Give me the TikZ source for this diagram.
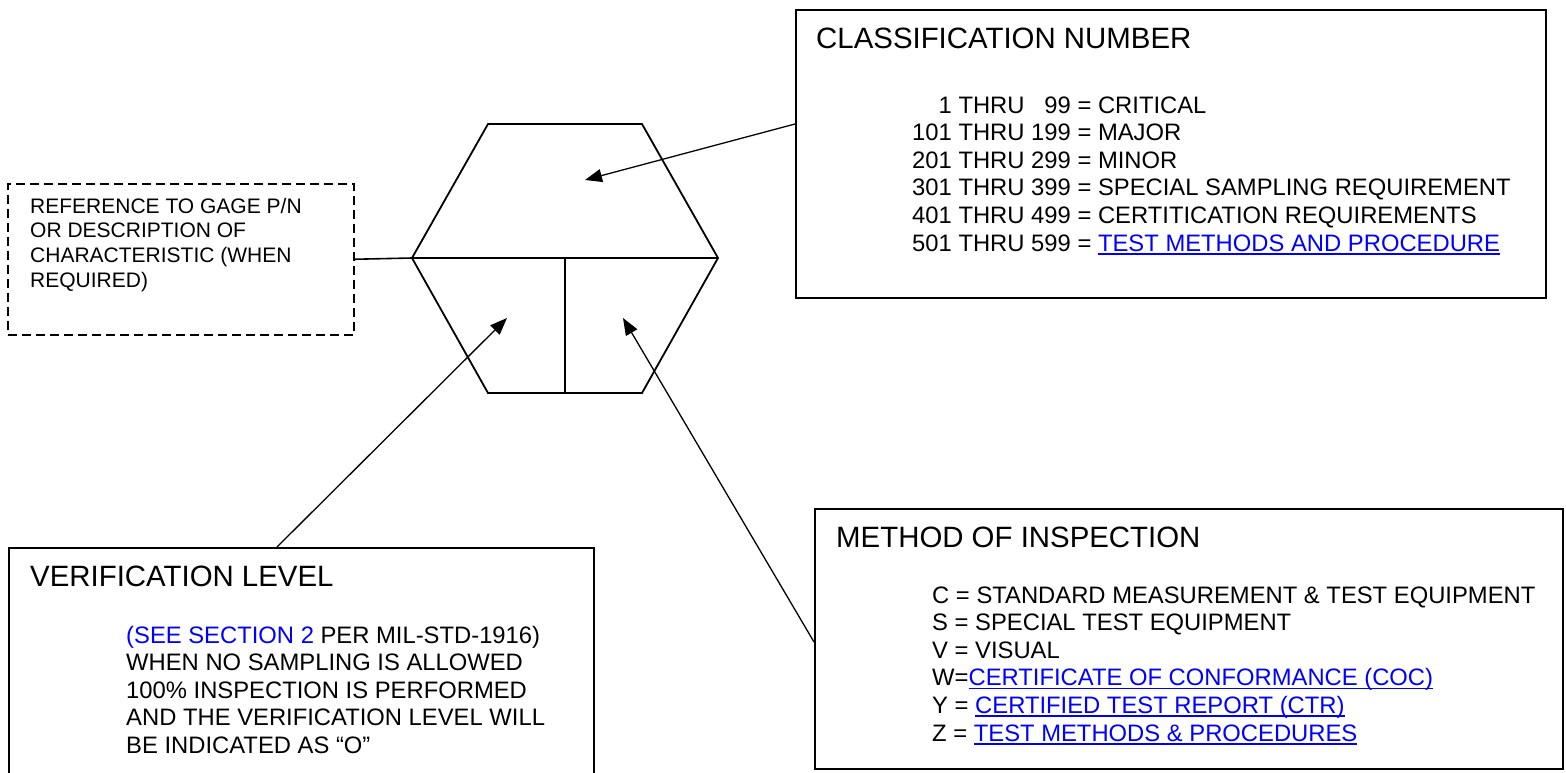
\documentclass[tikz,border=0pt]{standalone}
\usepackage{fontspec}
\setmainfont{Liberation Sans}
\usetikzlibrary{arrows.meta}
\definecolor{linkblue}{RGB}{0,0,255}
% font sizes for headings, list entries and the small note
\newcommand\hdrfont{\fontsize{29.4pt}{34pt}\selectfont}
\newcommand\itemfont{\fontsize{23.8pt}{27.6pt}\selectfont}
\newcommand\notefont{\fontsize{21pt}{24.7pt}\selectfont}
% blue underlined cross-reference
\newcommand\lnk[1]{\textcolor{linkblue}{\sbox0{#1}\rlap{\rule[-3.5pt]{\wd0}{1.5pt}}\usebox0}}
\begin{document}
\begin{tikzpicture}[x=1pt,y=-1pt,
  box/.style={draw=black, line width=1.7pt, inner sep=0pt, anchor=north west},
  dashbox/.style={draw=black, line width=1.5pt, dash pattern=on 9pt off 5pt, inner sep=0pt, anchor=north west},
  txt/.style={inner sep=0pt, anchor=base west},
  hexline/.style={line width=1.8pt, line join=miter},
  plainline/.style={line width=1.6pt},
  pointer/.style={line width=1.3pt, -{Triangle[length=17pt,width=13pt]}}]
\useasboundingbox (0,0) rectangle (1566,772);
\clip (0,0) rectangle (1566,772);
\fill[white] (0,0) rectangle (1566,772);

% ---- hexagonal symbol ----
\coordinate (htl) at (488,124);
\coordinate (htr) at (642,124);
\coordinate (hr)  at (718,258);
\coordinate (hbr) at (642,393);
\coordinate (hbl) at (488,393);
\coordinate (hl)  at (412,258);
\coordinate (hmid) at (565,258);
\coordinate (hmidb) at (565,393);
\draw[hexline] (htl) -- (htr) -- (hr) -- (hbr) -- (hbl) -- (hl) -- cycle;
\draw[hexline] (hl) -- (hr);
\draw[hexline] (hmid) -- (hmidb);

% ---- reference note ----
\node[dashbox, minimum width=346pt, minimum height=151pt] (refbox) at (7,183) {};
\node[txt, font=\notefont] (reftext) at (30,213) {\begin{tabular}[t]{@{}l@{}}
REFERENCE TO GAGE P/N\\
OR DESCRIPTION OF\\
CHARACTERISTIC (WHEN\\
REQUIRED)\end{tabular}};
\draw[plainline] (refbox.east) -- (hl);

% ---- classification number ----
\node[box, minimum width=750pt, minimum height=288pt] (classbox) at (795,9) {};
\node[txt, font=\hdrfont] (classtitle) at (816,48) {CLASSIFICATION NUMBER};
\node[txt, font=\itemfont] (classlist) at (912,113) {\begin{tabular}[t]{@{}r@{\ THRU\ }r@{\ =\ }l@{}}
1 & 99 & CRITICAL\\
101 & 199 & MAJOR\\
201 & 299 & MINOR\\
301 & 399 & SPECIAL SAMPLING REQUIREMENT\\
401 & 499 & CERTITICATION REQUIREMENTS\\
501 & 599 & \lnk{TEST METHODS AND PROCEDURE}\end{tabular}};

% ---- verification level ----
\node[box, minimum width=585pt, minimum height=240pt] (verifbox) at (8,547) {};
\node[txt, font=\hdrfont] (veriftitle) at (30,586) {VERIFICATION LEVEL};
\node[txt, font=\itemfont] (veriftext) at (126,643) {\begin{tabular}[t]{@{}l@{}}
\textcolor{linkblue}{(SEE SECTION 2} PER MIL-STD-1916)\\
WHEN NO SAMPLING IS ALLOWED\\
100\% INSPECTION IS PERFORMED\\
AND THE VERIFICATION LEVEL WILL\\
BE INDICATED AS “O”\end{tabular}};

% ---- method of inspection ----
\node[box, minimum width=748pt, minimum height=260pt] (methodbox) at (814,508) {};
\node[txt, font=\hdrfont] (methodtitle) at (836,547) {METHOD OF INSPECTION};
\node[txt, font=\itemfont] (methodlist) at (932,603) {\begin{tabular}[t]{@{}l@{}}
C = STANDARD MEASUREMENT \& TEST EQUIPMENT\\
S = SPECIAL TEST EQUIPMENT\\
V = VISUAL\\
W=\lnk{CERTIFICATE OF CONFORMANCE (COC)}\\
Y = \lnk{CERTIFIED TEST REPORT (CTR)}\\
Z = \lnk{TEST METHODS \& PROCEDURES}\end{tabular}};

% ---- pointers into the symbol ----
\coordinate (tipA) at (585,180);
\coordinate (tipB) at (507,318);
\coordinate (tipC) at (623,318);
\coordinate (srcA) at (classbox.west |- 0,124);
\coordinate (srcB) at (verifbox.north -| 277,0);
\coordinate (srcC) at (methodbox.west |- 0,642);
\draw[pointer] (srcA) -- (tipA);
\draw[pointer] (srcB) -- (tipB);
\draw[pointer] (srcC) -- (tipC);
\end{tikzpicture}
\end{document}
